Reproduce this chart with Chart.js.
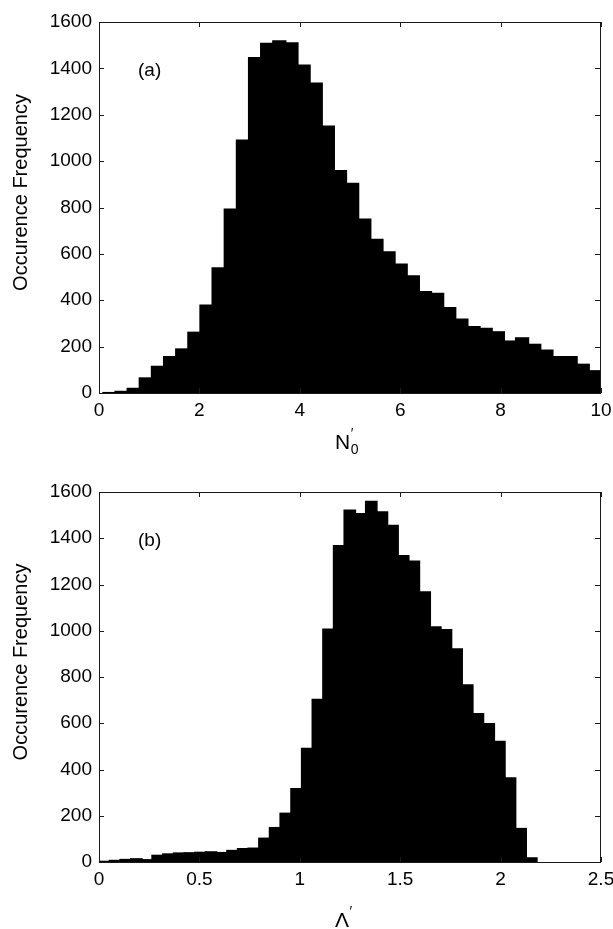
<!DOCTYPE html>
<html>
<head>
<meta charset="utf-8">
<script src="https://cdn.jsdelivr.net/npm/chart.js@4/dist/chart.umd.min.js"></script>
<style>
html,body{margin:0;padding:0;background:#fff;}
#wrap{position:relative;width:613px;height:929px;background:#fff;overflow:hidden;}
.panel{position:absolute;left:0;width:613px;}
</style>
</head>
<body>
<div id="wrap">
  <div class="panel" style="top:0;height:465px"><canvas id="ca"></canvas></div>
  <div class="panel" style="top:465px;height:464px"><canvas id="cb"></canvas></div>
</div>
<script>
// ---- Panel (a): N'0 histogram ----
const binCentersA = [0.207, 0.449, 0.691, 0.932, 1.174, 1.416, 1.658, 1.900, 2.141, 2.383,
  2.625, 2.867, 3.109, 3.350, 3.592, 3.834, 4.076, 4.318, 4.559, 4.801,
  5.043, 5.285, 5.527, 5.768, 6.010, 6.252, 6.494, 6.736, 6.977, 7.219,
  7.461, 7.703, 7.945, 8.186, 8.428, 8.670, 8.912, 9.154, 9.395, 9.637, 9.879];
const countsA = [2, 7, 20, 65, 115, 157, 190, 262, 379, 540,
  793, 1091, 1446, 1508, 1519, 1510, 1414, 1336, 1151, 959,
  904, 750, 663, 609, 556, 505, 437, 430, 368, 319,
  286, 279, 264, 224, 238, 210, 185, 157, 157, 124, 96];

// ---- Panel (b): Lambda' histogram ----
const binCentersB = [0.027, 0.080, 0.133, 0.186, 0.239, 0.292, 0.346, 0.399, 0.452, 0.505,
  0.558, 0.611, 0.665, 0.718, 0.771, 0.824, 0.877, 0.930, 0.984, 1.037,
  1.090, 1.143, 1.196, 1.249, 1.303, 1.356, 1.409, 1.462, 1.515, 1.568,
  1.622, 1.675, 1.728, 1.781, 1.834, 1.887, 1.941, 1.994, 2.047, 2.100, 2.153];
const countsB = [3, 7, 11, 14, 10, 29, 35, 39, 40, 42,
  44, 41, 50, 58, 60, 103, 149, 211, 317, 491,
  703, 1007, 1368, 1522, 1507, 1560, 1514, 1456, 1325, 1301,
  1168, 1017, 1005, 922, 766, 642, 599, 522, 364, 145, 18];

// ---- Tick labels ----
const xTicksA = [0, 2, 4, 6, 8, 10];
const xTicksB = [0, 0.5, 1, 1.5, 2, 2.5];
const yTicks = [0, 200, 400, 600, 800, 1000, 1200, 1400, 1600];

// ---- Texts ----
const yTitle = 'Occurence Frequency';
const panelLabels = ['(a)', '(b)'];
const xTitleMain = ['N', '\u039B'];

const FONT = '"Liberation Sans", Arial, Helvetica, sans-serif';

function framePlugin(label, mainSym) {
  return {
    id: 'frame',
    afterDraw(chart) {
      const ctx = chart.ctx;
      const a = chart.chartArea;
      const xs = chart.scales.x, ys = chart.scales.y;
      const L = Math.round(a.left), R = Math.round(a.right), T = Math.round(a.top), B = Math.round(a.bottom);
      ctx.save();
      ctx.strokeStyle = '#1a1a1a';
      ctx.lineWidth = 1;
      ctx.strokeRect(L + 0.5, T + 0.5, R - L - 1, B - T);
      const tl = 5;
      ctx.beginPath();
      xs.ticks.forEach(t => {
        const px = Math.round(xs.getPixelForValue(t.value)) + 0.5;
        ctx.moveTo(px, B); ctx.lineTo(px, B - tl);
        ctx.moveTo(px, T); ctx.lineTo(px, T + tl);
      });
      ys.ticks.forEach(t => {
        const py = Math.round(ys.getPixelForValue(t.value)) + 0.5;
        ctx.moveTo(L, py); ctx.lineTo(L + tl, py);
        ctx.moveTo(R - 1, py); ctx.lineTo(R - 1 - tl, py);
      });
      ctx.stroke();

      ctx.fillStyle = '#000';
      // panel label
      ctx.font = '19px ' + FONT;
      ctx.textAlign = 'left';
      ctx.textBaseline = 'alphabetic';
      ctx.fillText(label, L + 39, T + 54);

      // y title
      ctx.save();
      ctx.translate(21, (T + B) / 2 - 15);
      ctx.rotate(-Math.PI / 2);
      ctx.font = '20px ' + FONT;
      ctx.textAlign = 'center';
      ctx.textBaseline = 'middle';
      ctx.fillText(yTitle, 0, 0);
      ctx.restore();

      // x title
      const base = chart.height - (mainSym === 'N' ? 16 : 2);
      const x0 = 335;
      ctx.textAlign = 'left';
      ctx.font = '21px ' + FONT;
      ctx.fillText(mainSym, x0, base);
      const w = ctx.measureText(mainSym).width;
      ctx.font = '14px ' + FONT;
      ctx.fillText('\u2032', x0 + w + 0.5, base - 11);
      if (mainSym === 'N') {
        ctx.fillText('0', x0 + w + 0.5, base + 5);
      }
      ctx.restore();
    }
  };
}

function makeChart(id, centers, counts, xTicks, xMax, padTop, xHeight, label, mainSym) {
  const pts = centers.map((c, i) => ({ x: c, y: counts[i] }));
  return new Chart(document.getElementById(id), {
    type: 'bar',
    data: {
      datasets: [{
        data: pts,
        backgroundColor: '#000',
        borderColor: '#000',
        borderWidth: 0,
        inflateAmount: 0.6,
        barPercentage: 1.08,
        categoryPercentage: 1.0
      }]
    },
    options: {
      responsive: true,
      maintainAspectRatio: false,
      animation: false,
      devicePixelRatio: 1,
      layout: { padding: { left: 0, right: 12, top: padTop, bottom: 0 } },
      plugins: { legend: { display: false }, tooltip: { enabled: false }, title: { display: false } },
      scales: {
        x: {
          type: 'linear', min: 0, max: xMax, offset: false,
          grid: { display: false, drawTicks: false },
          border: { display: false },
          afterBuildTicks: s => { s.ticks = xTicks.map(v => ({ value: v })); },
          ticks: {
            autoSkip: false, maxRotation: 0, minRotation: 0, padding: 6, color: '#000',
            font: { family: FONT, size: 19 },
            callback: v => String(v)
          },
          afterFit: s => { s.height = xHeight; s.paddingLeft = 0; s.paddingRight = 0; }
        },
        y: {
          min: 0, max: 1600,
          grid: { display: false, drawTicks: false },
          border: { display: false },
          afterBuildTicks: s => { s.ticks = yTicks.map(v => ({ value: v })); },
          ticks: {
            padding: 7, color: '#000',
            font: { family: FONT, size: 19 },
            callback: v => String(v)
          },
          afterFit: s => { s.width = 99; s.paddingTop = 0; s.paddingBottom = 0; }
        }
      }
    },
    plugins: [framePlugin(label, mainSym)]
  });
}

makeChart('ca', binCentersA, countsA, xTicksA, 10, 22, 72, panelLabels[0], xTitleMain[0]);
makeChart('cb', binCentersB, countsB, xTicksB, 2.5, 27, 67, panelLabels[1], xTitleMain[1]);
</script>
</body>
</html>
